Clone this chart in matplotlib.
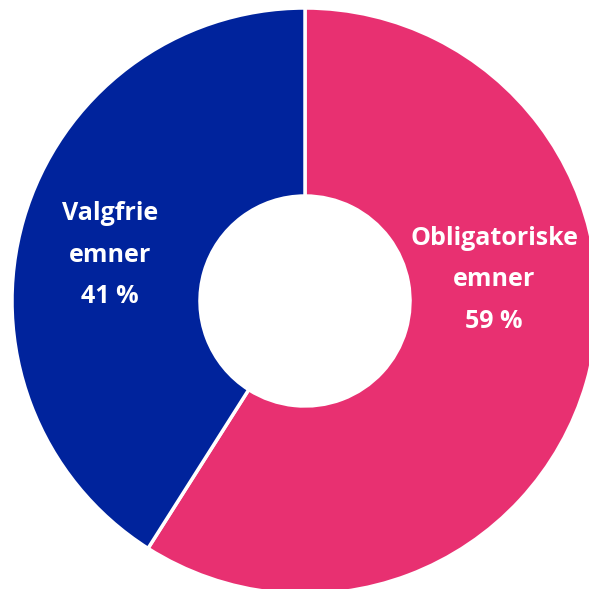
import matplotlib
matplotlib.use('Agg')
import matplotlib.pyplot as plt

labels = ['Obligatoriske\nemner', 'Valgfrie\nemner']
values = [59, 41]
colors = ['#E83071', '#00239C']
label_pos = [(494, 280), (110, 255)]  # pixel positions of label centres (from top-left)

W = 589
fig = plt.figure(figsize=(5.89, 5.89), dpi=100)
ax = fig.add_axes([0, 0, 1, 1])

cx, cy = 305, W - 301
ax.pie(values, colors=colors, startangle=90, counterclock=False,
       center=(cx, cy), radius=293, frame=True,
       wedgeprops=dict(width=293 - 105, edgecolor='white', linewidth=2.5))
ax.set_xlim(0, W)
ax.set_ylim(0, W)
ax.set_aspect('equal')
ax.axis('off')

for lab, v, (x, y) in zip(labels, values, label_pos):
    ax.text(x, W - y, f'{lab}\n{v} %', ha='center', va='center', color='white',
            fontsize=18, fontweight='bold', family='Open Sans', linespacing=1.85)

fig.savefig('out.png', dpi=100)
